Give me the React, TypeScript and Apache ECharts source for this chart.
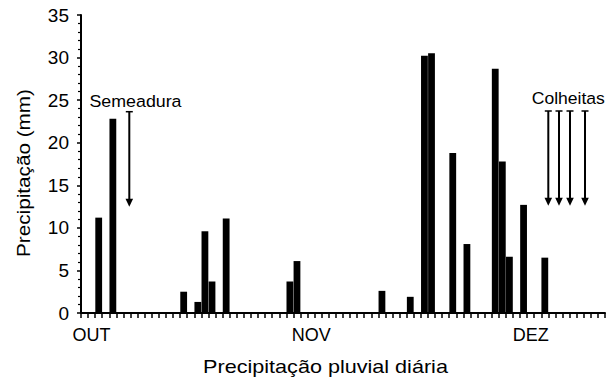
import React, { useEffect, useRef } from "react";
import * as echarts from "echarts";

// Daily precipitation (mm), one value per day (74 days, starting late September)
const precipitation: number[] = [
  0, 0, 11.2, 0, 22.8, 0, 0, 0, 0, 0,
  0, 0, 0, 0, 2.5, 0, 1.3, 9.6, 3.7, 0,
  11.1, 0, 0, 0, 0, 0, 0, 0, 0, 3.7,
  6.1, 0, 0, 0, 0, 0, 0, 0, 0, 0,
  0, 0, 2.6, 0, 0, 0, 1.9, 0, 30.2, 30.5,
  0, 0, 18.8, 0, 8.1, 0, 0, 0, 28.7, 17.8,
  6.6, 0, 12.7, 0, 0, 6.5, 0, 0, 0, 0,
  0, 0, 0, 0,
];
const monthTickIndex: number[] = [1, 32, 63];
const monthTickLabel: string[] = ["OUT", "NOV", "DEZ"];
const yTicks = { min: 0, max: 35, interval: 5 };

const yTitle = "Precipitação (mm)";
const xTitle = "Precipitação pluvial diária";
const sowingLabel = "Semeadura";
const harvestLabel = "Colheitas";

const FONT = '"Liberation Sans", Arial, Helvetica, sans-serif';

function arrow(x: number, yTop: number, yTip: number) {
  return [
    {
      type: "line",
      shape: { x1: x, y1: yTop, x2: x, y2: yTip - 6 },
      style: { stroke: "#000", lineWidth: 2 },
      silent: true,
    },
    {
      type: "line",
      shape: { x1: x - 3.5, y1: yTop, x2: x + 3.5, y2: yTop },
      style: { stroke: "#000", lineWidth: 1.5 },
      silent: true,
    },
    {
      type: "polygon",
      shape: { points: [[x - 3.8, yTip - 8], [x + 3.8, yTip - 8], [x, yTip]] },
      style: { fill: "#000" },
      silent: true,
    },
  ];
}

export default function App() {
  const ref = useRef<HTMLDivElement>(null);
  useEffect(() => {
    if (!ref.current) return;
    const chart = echarts.init(ref.current, null, { renderer: "svg" });
    const categories = precipitation.map((_, i) => String(i));
    const harvestXs = [548.3, 559, 570, 585];
    const graphics: any[] = [
      {
        type: "text",
        x: 23,
        y: 173,
        rotation: Math.PI / 2,
        scaleX: 1.12,
        style: {
          text: yTitle,
          font: `18.5px ${FONT}`,
          fill: "#000",
          align: "center",
          verticalAlign: "middle",
        },
        silent: true,
      },
      {
        type: "text",
        x: 325.5,
        y: 367,
        scaleX: 1.2,
        style: {
          text: xTitle,
          font: `18px ${FONT}`,
          fill: "#000",
          align: "center",
          verticalAlign: "middle",
        },
        silent: true,
      },
      {
        type: "text",
        x: 135.5,
        y: 101,
        scaleX: 1.08,
        style: {
          text: sowingLabel,
          font: `16.5px ${FONT}`,
          fill: "#000",
          align: "center",
          verticalAlign: "middle",
        },
        silent: true,
      },
      {
        type: "text",
        x: 568.3,
        y: 99,
        scaleX: 1.065,
        style: {
          text: harvestLabel,
          font: `16.5px ${FONT}`,
          fill: "#000",
          align: "center",
          verticalAlign: "middle",
        },
        silent: true,
      },
      ...arrow(129.3, 111.7, 206.7),
      ...harvestXs.flatMap((x) => arrow(x, 111, 205.7)),
    ];

    chart.setOption({
      animation: false,
      backgroundColor: "#fff",
      grid: { left: 81, right: 2, top: 15, bottom: 67, containLabel: false },
      xAxis: {
        type: "category",
        data: categories,
        boundaryGap: true,
        axisLine: { show: true, lineStyle: { color: "#000", width: 2 } },
        axisTick: {
          show: true,
          interval: 0,
          alignWithLabel: false,
          length: 5,
          lineStyle: { color: "#000", width: 1.5 },
        },
        axisLabel: {
          interval: (index: number) => monthTickIndex.includes(index),
          formatter: (_v: string, index: number) => {
            const k = monthTickIndex.indexOf(index);
            return k >= 0 ? monthTickLabel[k] : "";
          },
          color: "#000",
          fontFamily: FONT,
          fontSize: 18,
          margin: 13,
        },
        splitLine: { show: false },
      },
      yAxis: {
        type: "value",
        min: yTicks.min,
        max: yTicks.max,
        interval: yTicks.interval,
        axisLine: { show: true, lineStyle: { color: "#000", width: 2 } },
        axisTick: { show: true, length: 4, lineStyle: { color: "#000", width: 1.5 } },
        minorTick: { show: true, splitNumber: 5, length: 3, lineStyle: { color: "#000", width: 1.2 } },
        axisLabel: {
          color: "#000",
          fontFamily: FONT,
          fontSize: 19,
          margin: 12,
        },
        splitLine: { show: false },
      },
      series: [
        {
          type: "bar",
          data: precipitation,
          barWidth: "96%",
          itemStyle: { color: "#000" },
          silent: true,
        },
      ],
      graphic: graphics,
    });
    return () => chart.dispose();
  }, []);
  return (
    <div
      ref={ref}
      style={{ position: "fixed", left: 0, top: 0, width: 607, height: 380, background: "#fff" }}
    />
  );
}
